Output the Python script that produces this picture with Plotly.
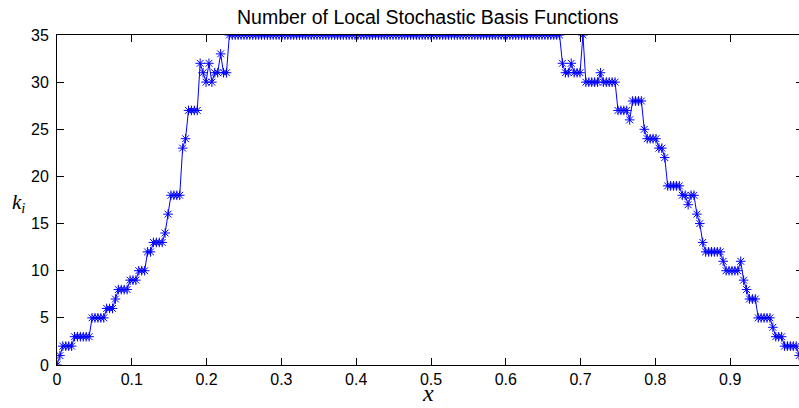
import numpy as np
import plotly.graph_objects as go

# k_i values at x_i = i/256, i = 0..255
k_values = (
    [0, 1, 2, 2, 2, 2, 3, 3, 3, 3, 3, 3, 5, 5, 5, 5, 5, 6, 6, 6,
     7, 8, 8, 8, 8, 9, 9, 9, 10, 10, 10, 12, 12, 13, 13, 13, 13, 14, 16, 18,
     18, 18, 18, 23, 24, 27, 27, 27, 27, 32, 31, 30, 32, 30, 31, 31, 33, 31, 31]
    + [35] * 114
    + [32, 31, 31, 32, 31, 31, 31, 35, 30, 30, 30, 30, 30, 31, 30, 30, 30, 30, 30,
       27, 27, 27, 27, 26, 28, 28, 28, 28, 25, 24, 24, 24, 24, 23, 23, 22,
       19, 19, 19, 19, 19, 18, 18, 17, 18, 18, 16, 15, 13, 12, 12, 12, 12, 12, 12,
       11, 10, 10, 10, 10, 10, 11, 9, 8, 7, 7, 7, 5, 5, 5, 5, 5, 4, 3, 3, 3,
       2, 2, 2, 2, 2, 1, 1]
)
n_cells = 256
x_values = np.arange(len(k_values)) / n_cells

x_tickvals = [0, 0.1, 0.2, 0.3, 0.4, 0.5, 0.6, 0.7, 0.8, 0.9]
x_ticktext = ["0", "0.1", "0.2", "0.3", "0.4", "0.5", "0.6", "0.7", "0.8", "0.9"]
y_tickvals = [0, 5, 10, 15, 20, 25, 30, 35]

title_text = "Number of Local Stochastic Basis Functions"

W, H = 799, 408
ml, mr, mt, mb = 57, 0, 35, 43
px_per_unit = 748.0
x_max = (W - ml - mr) / px_per_unit

fig = go.Figure()
fig.add_trace(go.Scatter(
    x=x_values, y=k_values, mode="lines+markers",
    line=dict(color="rgb(0,0,255)", width=1),
    marker=dict(symbol="asterisk-open", size=8, color="rgb(0,0,255)",
                line=dict(color="rgb(0,0,255)", width=1)),
    showlegend=False,
))
# invisible trace to carry right-side tick stubs
fig.add_trace(go.Scatter(x=[0], y=[0], yaxis="y2", mode="markers",
                         marker=dict(opacity=0), showlegend=False, hoverinfo="skip"))

font_family = "Liberation Sans, Arial, Helvetica, sans-serif"

fig.update_layout(
    width=W, height=H,
    margin=dict(l=ml, r=mr, t=mt, b=mb, pad=0),
    paper_bgcolor="white", plot_bgcolor="white",
    font=dict(family=font_family, size=16, color="black"),
    xaxis=dict(range=[0, x_max], tickvals=x_tickvals, ticktext=x_ticktext,
               ticks="inside", ticklen=7, tickwidth=1, tickcolor="black",
               showline=True, linecolor="black", linewidth=1, mirror="ticks",
               showgrid=False, zeroline=False,
               tickfont=dict(family=font_family, size=16, color="black")),
    yaxis=dict(range=[0, 35], tickvals=y_tickvals,
               ticks="inside", ticklen=7, tickwidth=1, tickcolor="black",
               showline=True, linecolor="black", linewidth=1,
               showgrid=False, zeroline=False, ticklabelstandoff=4,
               tickfont=dict(family=font_family, size=16, color="black")),
    yaxis2=dict(range=[0, 35], tickvals=y_tickvals, overlaying="y", side="right",
                anchor="x", ticks="inside", ticklen=3, tickwidth=1, tickcolor="black",
                showline=False, showticklabels=False, showgrid=False, zeroline=False),
    annotations=[
        dict(text=title_text, x=0.5, y=1, xref="paper", yref="paper",
             xanchor="center", yanchor="bottom", yshift=5, showarrow=False,
             font=dict(family=font_family, size=19.5, color="black")),
        dict(text="<i>x</i>", x=0.5, y=0, xref="paper", yref="paper",
             xanchor="center", yanchor="top", yshift=-13, showarrow=False,
             font=dict(family="Liberation Serif, Times New Roman, serif", size=24, color="black")),
        dict(text="<i>k</i><sub><i>i</i></sub>", x=(18 - ml) / (W - ml - mr), y=0.49,
             xref="paper", yref="paper",
             xanchor="center", yanchor="middle", showarrow=False,
             font=dict(family="Liberation Serif, Times New Roman, serif", size=21, color="black")),
    ],
)

fig.write_html("out.html",
               config={"displayModeBar": False},
               post_script="document.body.style.margin='0';document.body.style.overflow='hidden';")
